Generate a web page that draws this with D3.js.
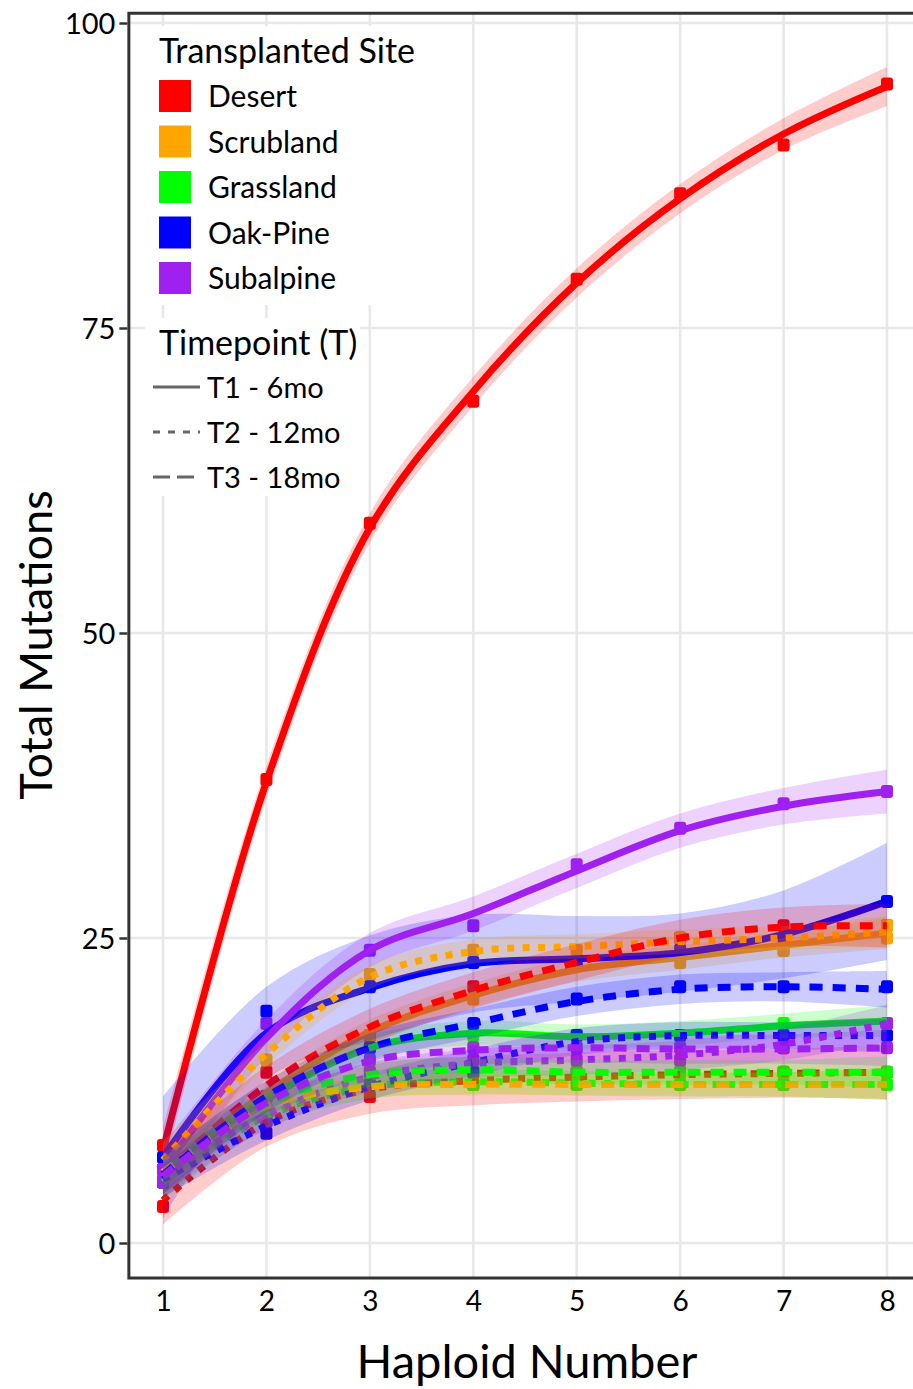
<!DOCTYPE html>
<html>
<head>
<meta charset="utf-8">
<script src="https://cdn.jsdelivr.net/npm/d3@7"></script>
<style>
  html, body { margin: 0; padding: 0; background: #fff; }
  svg text { font-family: Lato, "Open Sans", sans-serif; fill: #000; }
</style>
</head>
<body>
<svg id="chart" width="913" height="1389"></svg>
<script>
// ---- data ----
const haploid = [1, 2, 3, 4, 5, 6, 7, 8];
const sites = ["Desert", "Scrubland", "Grassland", "Oak-Pine", "Subalpine"];
const siteColors = ["#FF0000", "#FFA500", "#00FF00", "#0000FF", "#A020F0"];
const timepoints = ["T1 - 6mo", "T2 - 12mo", "T3 - 18mo"];
const yTicks = [0, 25, 50, 75, 100];

// smoothed fits, one row per timepoint (T1, T2, T3)
const fitDesert = [
  [7.6, 37.8, 58.6, 69.8, 78.7, 85.6, 90.9, 94.8],
  [3.5, 9.9, 12.6, 13.3, 13.6, 13.8, 13.9, 14.0],
  [5.6, 12.9, 17.7, 20.7, 23.0, 25.0, 25.9, 26.0]
];
const fitScrubland = [
  [6.0, 12.3, 17.3, 20.3, 22.4, 23.4, 24.4, 25.4],
  [6.8, 15.5, 21.8, 23.9, 24.3, 24.7, 25.0, 25.5],
  [5.8, 11.2, 12.8, 13.0, 13.0, 13.0, 13.0, 13.0]
];
const fitGrassland = [
  [6.0, 11.8, 16.0, 17.2, 16.9, 17.2, 17.8, 18.2],
  [5.0, 10.4, 12.8, 13.2, 13.1, 13.0, 13.0, 13.0],
  [5.5, 11.4, 13.8, 14.2, 14.0, 14.0, 14.0, 14.0]
];
const fitOakPine = [
  [7.0, 17.2, 20.9, 22.9, 23.3, 23.8, 25.3, 28.0],
  [5.2, 9.6, 12.8, 14.8, 16.5, 17.0, 17.0, 17.0],
  [5.6, 12.0, 16.0, 18.0, 19.8, 20.8, 21.0, 20.8]
];
const fitSubalpine = [
  [6.0, 16.8, 24.0, 27.0, 30.5, 33.8, 35.8, 37.0],
  [5.5, 10.5, 13.6, 14.7, 15.0, 15.4, 16.3, 18.0],
  [5.5, 11.5, 14.9, 15.8, 16.0, 15.9, 15.9, 16.0]
];

// confidence band half-widths
const bandDesert = [
  [1.8, 1.3, 1.2, 1.2, 1.2, 1.2, 1.3, 1.6],
  [2.0, 2.0, 2.0, 2.0, 2.0, 2.0, 2.0, 2.2],
  [2.0, 1.6, 1.5, 1.5, 1.5, 1.5, 1.6, 1.8]
];
const bandScrubland = [
  [1.5, 1.0, 1.0, 1.0, 1.0, 1.0, 1.0, 1.3],
  [1.5, 1.0, 1.0, 1.0, 1.0, 1.0, 1.0, 1.3],
  [1.5, 1.0, 0.9, 0.9, 0.9, 0.9, 1.0, 1.3]
];
const bandGrassland = [
  [1.5, 1.0, 1.0, 1.0, 1.0, 1.0, 1.0, 1.3],
  [1.5, 1.0, 1.0, 1.0, 1.0, 1.0, 1.0, 1.3],
  [1.5, 1.0, 1.0, 1.0, 1.0, 1.0, 1.0, 1.3]
];
const bandOakPine = [
  [5.0, 3.8, 4.3, 4.0, 3.5, 3.2, 3.6, 4.8],
  [1.5, 1.2, 1.1, 1.1, 1.1, 1.1, 1.1, 1.4],
  [1.6, 1.3, 1.2, 1.2, 1.2, 1.2, 1.2, 1.5]
];
const bandSubalpine = [
  [2.0, 1.5, 1.4, 1.4, 1.4, 1.4, 1.5, 1.8],
  [1.5, 1.2, 1.2, 1.2, 1.2, 1.2, 1.3, 1.5],
  [1.5, 1.2, 1.2, 1.2, 1.2, 1.2, 1.2, 1.5]
];

// observed totals
const obsDesert = [
  [8, 38, 59, 69, 79, 86, 90, 95],
  [3, 10, 12, 13, 14, 14, 14, 14],
  [6, 14, 17, 21, 23, 25, 26, 26]
];
const obsScrubland = [
  [5, 12, 17, 20, 23, 23, 24, 25],
  [6, 15, 22, 24, 24, 25, 24, 26],
  [5, 11, 13, 13, 13, 13, 13, 13]
];
const obsGrassland = [
  [6, 12, 16, 17, 17, 17, 18, 18],
  [5, 10, 13, 13, 13, 13, 13, 13],
  [5, 11, 14, 14, 14, 14, 14, 14]
];
const obsOakPine = [
  [7, 19, 21, 23, 23, 24, 25, 28],
  [5, 9, 13, 14, 17, 17, 17, 17],
  [6, 12, 16, 18, 20, 21, 21, 21]
];
const obsSubalpine = [
  [6, 18, 24, 26, 31, 34, 36, 37],
  [5, 10, 14, 15, 15, 15, 16, 18],
  [6, 12, 15, 16, 16, 16, 16, 16]
];

const fits = [fitDesert, fitScrubland, fitGrassland, fitOakPine, fitSubalpine];
const bands = [bandDesert, bandScrubland, bandGrassland, bandOakPine, bandSubalpine];
const observed = [obsDesert, obsScrubland, obsGrassland, obsOakPine, obsSubalpine];

// ---- layout ----
const svg = d3.select("#chart");
const x = d3.scaleLinear().domain([1, 8]).range([163, 887]);
const y = d3.scaleLinear().domain([0, 100]).range([1243, 23]);
const xLim = [0.67, 8.33];
const yLim = [-2.87, 100.8];
const panel = { left: x(xLim[0]), right: x(xLim[1]), top: y(yLim[1]), bottom: y(yLim[0]) };

const lineWidth = 7;
const dashes = [null, "7,8.5", "13,10"];

svg.append("defs").append("clipPath").attr("id", "panel-clip")
  .append("rect")
  .attr("x", panel.left).attr("y", panel.top)
  .attr("width", panel.right - panel.left).attr("height", panel.bottom - panel.top);

// grid
const grid = svg.append("g");
grid.selectAll("line.gx").data(haploid).join("line")
  .attr("x1", d => x(d)).attr("x2", d => x(d))
  .attr("y1", panel.top).attr("y2", panel.bottom)
  .attr("stroke", "#e8e8e8").attr("stroke-width", 2.6);
grid.selectAll("line.gy").data(yTicks).join("line")
  .attr("x1", panel.left).attr("x2", panel.right)
  .attr("y1", d => y(d)).attr("y2", d => y(d))
  .attr("stroke", "#e8e8e8").attr("stroke-width", 2.6);

const plot = svg.append("g").attr("clip-path", "url(#panel-clip)");

// observed points underneath the smooths
sites.forEach((site, si) => {
  observed[si].forEach(vals => {
    plot.append("g").selectAll("rect").data(vals).join("rect")
      .attr("x", (d, i) => x(haploid[i]) - 6)
      .attr("y", d => y(d) - 6.5)
      .attr("width", 12).attr("height", 13).attr("rx", 3)
      .attr("fill", siteColors[si]);
  });
});

const curve = d3.curveCatmullRom.alpha(0.5);
const area = d3.area()
  .x(d => x(d.h)).y0(d => y(d.f - d.b)).y1(d => y(d.f + d.b)).curve(curve);
const line = d3.line().x(d => x(d.h)).y(d => y(d.f)).curve(curve);

// smooths: band then line, timepoint by timepoint
[0, 1, 2].forEach(ti => {
  sites.forEach((site, si) => {
    const rows = haploid.map((h, i) => ({ h, f: fits[si][ti][i], b: bands[si][ti][i] }));
    plot.append("path").datum(rows)
      .attr("d", area)
      .attr("fill", siteColors[si]).attr("fill-opacity", 0.2);
    plot.append("path").datum(rows)
      .attr("d", line)
      .attr("fill", "none")
      .attr("stroke", siteColors[si])
      .attr("stroke-width", lineWidth)
      .attr("stroke-linecap", "butt")
      .attr("stroke-dasharray", dashes[ti]);
  });
});

// panel border
svg.append("rect")
  .attr("x", panel.left).attr("y", panel.top)
  .attr("width", panel.right - panel.left).attr("height", panel.bottom - panel.top)
  .attr("fill", "none").attr("stroke", "#333").attr("stroke-width", 3);

// axes
const yAxis = svg.append("g").attr("transform", `translate(${panel.left - 1.5},0)`)
  .call(d3.axisLeft(y).tickValues(yTicks).tickSize(8).tickPadding(4));
yAxis.select(".domain").remove();
yAxis.selectAll(".tick line").attr("stroke", "#333").attr("stroke-width", 2.5);
yAxis.selectAll(".tick text").attr("font-size", 29).attr("dy", "0.36em")
  .style("font-family", "Lato, 'Open Sans', sans-serif");

const xAxis = svg.append("g").attr("transform", `translate(0,${panel.bottom})`)
  .call(d3.axisBottom(x).tickValues(haploid).tickFormat(d3.format("d")).tickSize(0).tickPadding(13));
xAxis.select(".domain").remove();
xAxis.selectAll(".tick text").attr("font-size", 28).attr("dy", "0.71em")
  .style("font-family", "Lato, 'Open Sans', sans-serif");

// axis titles
svg.append("text")
  .attr("x", (panel.left + 913) / 2 + 6).attr("y", 1378)
  .attr("text-anchor", "middle").attr("font-size", 47)
  .text("Haploid Number");
svg.append("text")
  .attr("transform", `translate(52,645) rotate(-90)`)
  .attr("text-anchor", "middle").attr("font-size", 45)
  .text("Total Mutations");

// legend: sites
const legSite = svg.append("g");
legSite.append("rect").attr("x", 145).attr("y", 26).attr("width", 282).attr("height", 279).attr("fill", "#fff");
legSite.append("text").attr("x", 159).attr("y", 63).attr("font-size", 34).text("Transplanted Site");
sites.forEach((s, i) => {
  const top = 80 + i * 45.5;
  legSite.append("rect").attr("x", 159).attr("y", top).attr("width", 32).attr("height", 32).attr("fill", siteColors[i]);
  legSite.append("text").attr("x", 208).attr("y", top + 27).attr("font-size", 30).text(s);
});

// legend: timepoints
const legTime = svg.append("g");
legTime.append("rect").attr("x", 145).attr("y", 318).attr("width", 215).attr("height", 178).attr("fill", "#fff");
legTime.append("text").attr("x", 159).attr("y", 355).attr("font-size", 34).text("Timepoint (T)");
const legendDashes = [null, "7,8", "17,7"];
timepoints.forEach((t, i) => {
  const cy = 387 + i * 45;
  legTime.append("line").attr("x1", 153).attr("x2", 200).attr("y1", cy).attr("y2", cy)
    .attr("stroke", "#666").attr("stroke-width", 3).attr("stroke-dasharray", legendDashes[i]);
  legTime.append("text").attr("x", 207).attr("y", cy + 11).attr("font-size", 29).text(t);
});
</script>
</body>
</html>
